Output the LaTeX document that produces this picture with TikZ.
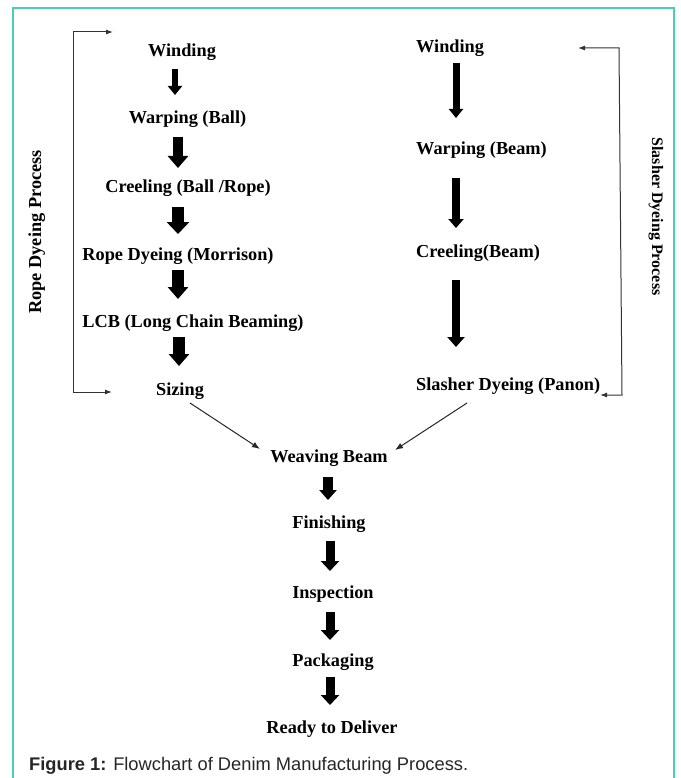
\documentclass[tikz,border=0pt]{standalone}
\usepackage{fontspec}
\setmainfont{Liberation Serif}
\setsansfont{Liberation Sans}
\usetikzlibrary{arrows.meta}
\definecolor{framecol}{HTML}{4CCDBA}
\begin{document}
\begin{tikzpicture}[x=1pt,y=-1pt,
  lbl/.style={font=\fontsize{18.3}{20}\selectfont\bfseries, inner sep=0pt, anchor=base, text=black},
  rlbl/.style={lbl, anchor=base west},
  side/.style={font=\fontsize{#1}{20}\selectfont\bfseries, inner sep=0pt, anchor=base, text=black},
  blk/.style n args={3}{draw=black, line width=#1, -{Triangle[width=#2,length=#3]}},
  brk/.style={draw=black!80, line width=1pt, {Latex[length=7pt,width=5pt]}-{Latex[length=7pt,width=5pt]}},
  diag/.style={draw=black!85, line width=1pt, -{Latex[length=8pt,width=6pt]}}
]
\useasboundingbox (0,0) rectangle (680,778);
% frame
\draw[framecol, line width=2pt] (13,782) -- (13,8) -- (674,8) -- (674,782);

% left column
\node[lbl] (lw)  at (182,57)   {Winding};
\node[lbl] (lwp) at (187.5,124) {Warping (Ball)};
\node[lbl] (lcr) at (188,192)  {Creeling (Ball /Rope)};
\node[lbl] (lrd) at (178,260)  {Rope Dyeing (Morrison)};
\node[lbl] (lcb) at (193,327)  {LCB (Long Chain Beaming)};
\node[lbl] (lsz) at (180,395)  {Sizing};

% right column
\node[rlbl] (rw)  at (416,53)  {Winding};
\node[rlbl] (rwp) at (416,155) {Warping (Beam)};
\node[rlbl] (rcr) at (416,257) {Creeling(Beam)};
\node[rlbl] (rsd) at (416,390) {Slasher Dyeing (Panon)};

% centre column
\node[lbl] (wb)  at (329,462) {Weaving Beam};
\node[lbl] (fin) at (329,528) {Finishing};
\node[lbl] (ins) at (333,598) {Inspection};
\node[lbl] (pkg) at (333,666) {Packaging};
\node[lbl] (rtd) at (332,733) {Ready to Deliver};

% side labels
\node[side=18.3, rotate=90] (lside) at (41,232) {Rope Dyeing Process};
\node[side=16, rotate=-90] (rside) at (652,216.5) {Slasher Dyeing Process};

% caption
\node[anchor=base west, inner sep=0pt, font=\sffamily\fontsize{18.3}{20}\selectfont, text=black!85] (cap) at (29,770)
  {\textbf{Figure 1:} Flowchart of Denim Manufacturing Process.};

% left block arrows
\draw[blk={6pt}{14pt}{9pt}]  ([shift={(-7,12)}]lw.base) -- ([shift={(-12.5,-29)}]lwp.base);
\draw[blk={10pt}{20pt}{12pt}] ([shift={(-9.5,13)}]lwp.base) -- ([shift={(-10,-24)}]lcr.base);
\draw[blk={12pt}{22pt}{12pt}] ([shift={(-10,15)}]lcr.base) -- ([shift={(0,-26)}]lrd.base);
\draw[blk={12pt}{20pt}{12pt}] ([shift={(0,10)}]lrd.base) -- ([shift={(-15,-28)}]lcb.base);
\draw[blk={12pt}{20pt}{12pt}] ([shift={(-14,10)}]lcb.base) -- ([shift={(-1,-29)}]lsz.base);

% right block arrows
\draw[blk={7pt}{14pt}{9pt}]  ([shift={(40,10)}]rw.base west) -- ([shift={(40,-37)}]rwp.base west);
\draw[blk={8pt}{15pt}{9pt}]  ([shift={(40,23)}]rwp.base west) -- ([shift={(40,-29)}]rcr.base west);
\draw[blk={8pt}{17pt}{10pt}] ([shift={(40,23)}]rcr.base west) -- ([shift={(40,-43)}]rsd.base west);

% centre block arrows
\draw[blk={10pt}{17pt}{10pt}] ([shift={(-1,15)}]wb.base) -- ([shift={(-1,-28)}]fin.base);
\draw[blk={9pt}{18pt}{10pt}]  ([shift={(1,13)}]fin.base) -- ([shift={(-3,-27)}]ins.base);
\draw[blk={9pt}{18pt}{10pt}]  ([shift={(-3,14)}]ins.base) -- ([shift={(-3,-26)}]pkg.base);
\draw[blk={9pt}{18pt}{10pt}]  ([shift={(-3,11)}]pkg.base) -- ([shift={(-2,-28)}]rtd.base);

% diagonal arrows
\draw[diag] ([shift={(10,8)}]lsz.base) -- ([shift={(-69,-13)}]wb.base);
\draw[diag] ([shift={(51,13)}]rsd.base west) -- ([shift={(66,-12)}]wb.base);

% brackets
\coordinate (ltop) at (73,32);
\coordinate (lbot) at (73,392);
\coordinate (ltipa) at (113,32);
\coordinate (ltipb) at (112,392);
\draw[brk] (ltipa) -- (ltop) -- (lbot) -- (ltipb);
\coordinate (rtop) at (619,48);
\coordinate (rbot) at (622,395);
\coordinate (rtipa) at (578,48);
\coordinate (rtipb) at (600,395);
\draw[brk] (rtipa) -- (rtop) -- (rbot) -- (rtipb);
\end{tikzpicture}
\end{document}
